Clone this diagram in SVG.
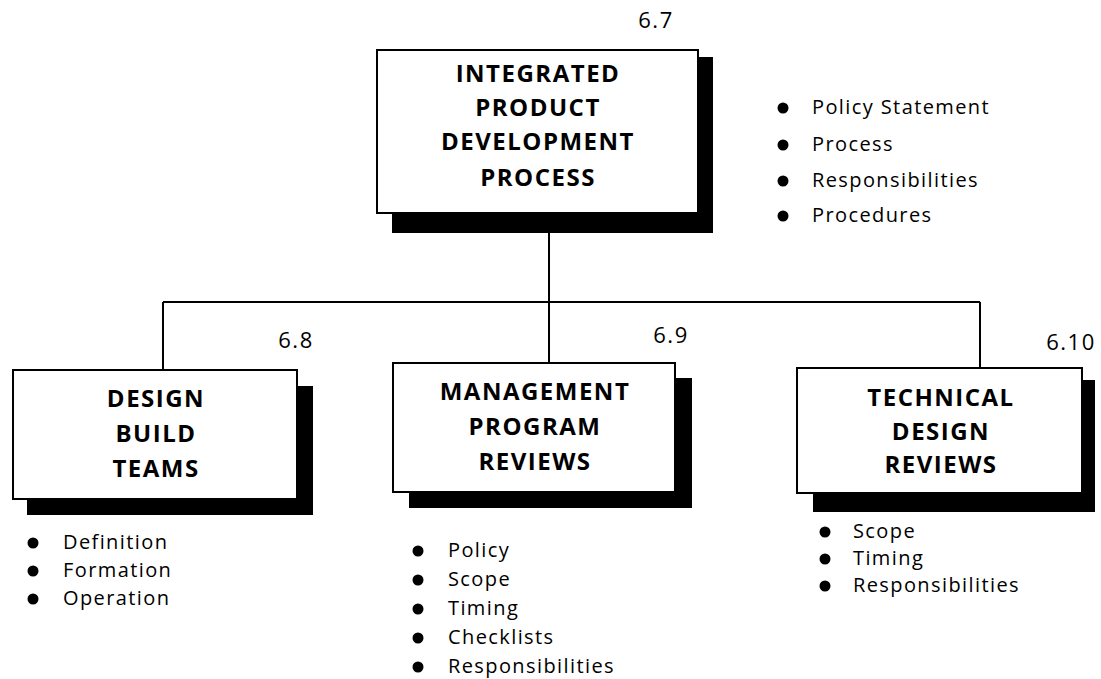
<svg xmlns="http://www.w3.org/2000/svg" width="1101" height="679" viewBox="0 0 1101 679">
<style>
.box{fill:#fff;stroke:#000;stroke-width:2}
.sh{fill:#000}
.t{font-family:"Open Sans","Liberation Sans",sans-serif;font-weight:700;font-size:24px;letter-spacing:1.5px;text-anchor:middle;fill:#000}
.n{font-family:"Open Sans","Liberation Sans",sans-serif;font-size:22px;letter-spacing:1.5px;text-anchor:middle;fill:#000}
.b{font-family:"Open Sans","Liberation Sans",sans-serif;font-size:20px;letter-spacing:1.4px;fill:#000}
.c{fill:none;stroke:#000;stroke-width:2}
</style>
<rect width="1101" height="679" fill="#fff"/>
<g id="connectors">
<path class="c" d="M549 213V302M163 302H980M163 302V370M549 302V363M980 302V368"/>
</g>
<g id="n67">
<rect class="sh" x="392" y="57" width="321" height="176"/>
<rect class="box" x="377" y="50" width="321" height="163"/>
<text class="t" x="538" y="82">INTEGRATED</text>
<text class="t" x="538" y="116">PRODUCT</text>
<text class="t" x="538" y="150">DEVELOPMENT</text>
<text class="t" x="538" y="186">PROCESS</text>
<text class="n" x="656" y="28">6.7</text>
</g>
<g id="list67">
<circle cx="783" cy="108" r="5.5"/><text class="b" x="812" y="114">Policy Statement</text>
<circle cx="783" cy="145" r="5.5"/><text class="b" x="812" y="151">Process</text>
<circle cx="783" cy="181" r="5.5"/><text class="b" x="812" y="187">Responsibilities</text>
<circle cx="783" cy="216" r="5.5"/><text class="b" x="812" y="222">Procedures</text>
</g>
<g id="n68">
<rect class="sh" x="27" y="386" width="286" height="129"/>
<rect class="box" x="13" y="370" width="284" height="129"/>
<text class="t" x="156" y="407">DESIGN</text>
<text class="t" x="156" y="442">BUILD</text>
<text class="t" x="156" y="477">TEAMS</text>
<text class="n" x="296" y="348">6.8</text>
</g>
<g id="list68">
<circle cx="33" cy="543" r="5.5"/><text class="b" x="63" y="549">Definition</text>
<circle cx="33" cy="571" r="5.5"/><text class="b" x="63" y="577">Formation</text>
<circle cx="33" cy="599" r="5.5"/><text class="b" x="63" y="605">Operation</text>
</g>
<g id="n69">
<rect class="sh" x="409" y="378" width="283" height="130"/>
<rect class="box" x="393" y="363" width="282" height="129"/>
<text class="t" x="535" y="400">MANAGEMENT</text>
<text class="t" x="535" y="435">PROGRAM</text>
<text class="t" x="535" y="470">REVIEWS</text>
<text class="n" x="671" y="343">6.9</text>
</g>
<g id="list69">
<circle cx="418" cy="551" r="5.5"/><text class="b" x="448" y="557">Policy</text>
<circle cx="418" cy="580" r="5.5"/><text class="b" x="448" y="586">Scope</text>
<circle cx="418" cy="609" r="5.5"/><text class="b" x="448" y="615">Timing</text>
<circle cx="418" cy="638" r="5.5"/><text class="b" x="448" y="644">Checklists</text>
<circle cx="418" cy="667" r="5.5"/><text class="b" x="448" y="673">Responsibilities</text>
</g>
<g id="n610">
<rect class="sh" x="813" y="380" width="282" height="132"/>
<rect class="box" x="797" y="368" width="285" height="125"/>
<text class="t" x="941" y="406">TECHNICAL</text>
<text class="t" x="941" y="440">DESIGN</text>
<text class="t" x="941" y="473">REVIEWS</text>
<text class="n" x="1071" y="350">6.10</text>
</g>
<g id="list610">
<circle cx="825" cy="532" r="5.5"/><text class="b" x="853" y="538">Scope</text>
<circle cx="825" cy="559" r="5.5"/><text class="b" x="853" y="565">Timing</text>
<circle cx="825" cy="586" r="5.5"/><text class="b" x="853" y="592">Responsibilities</text>
</g>
</svg>
